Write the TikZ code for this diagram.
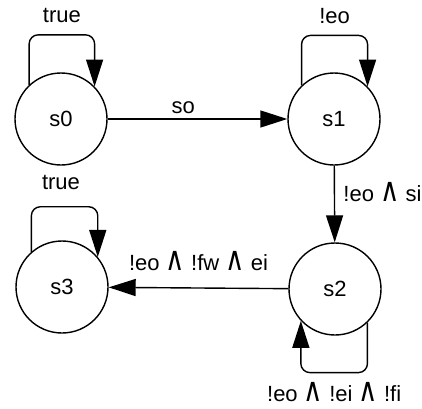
\documentclass[tikz,border=0pt]{standalone}
\usepackage{fontspec}
\setmainfont{Liberation Sans}
\newfontfamily\opfont{DejaVu Sans}
\newcommand{\andsym}{\raisebox{0pt}[\height][0pt]{\scalebox{1.2}[1.5]{\opfont ∧}}}
\usetikzlibrary{arrows.meta}

\begin{document}
\begin{tikzpicture}[x=1pt, y=1pt, line width=1.4pt,
  state/.style={draw, circle, minimum size=92pt, inner sep=0pt},
  lbl/.style={font=\fontsize{22}{26}\selectfont},
  trans/.style={-{Triangle[length=27pt, width=17pt]}},
  selfloop/.style={trans, rounded corners=9pt}]
\useasboundingbox (0,0) rectangle (422,408);
\node[state, lbl] (s0) at (61,289) {s0};
\node[state, lbl] (s1) at (334,289) {s1};
\node[state, lbl] (s2) at (335,119) {s2};
\node[state, lbl] (s3) at (62,121) {s3};
\draw[trans] (s0) -- node[lbl, pos=0.42, above, yshift=1pt] {so} (s1);
\draw[trans] (s1) -- node[lbl, pos=0.35, right, xshift=5pt] {!eo \andsym{} si} (s2);
\draw[trans] (s2) -- node[lbl, pos=0.5, above, yshift=13pt] {!eo \andsym{} !fw \andsym{} ei} (s3);
\draw[selfloop] (s0.133) -- ++(0,50) -| node[lbl, pos=0.25, above, yshift=8pt] {true} (s0.44);
\draw[selfloop] (s1.134) -- ++(0,50) -| node[lbl, pos=0.25, above, yshift=8pt] {!eo} (s1.44);
\draw[selfloop] (s3.131) -- ++(0,45) -| (s3.40);
\node[lbl] (t3) at (61,226) {true};
\draw[selfloop] (s2.-46) -- ++(0,-50) -| node[lbl, pos=0.25, below, yshift=-6pt] {!eo \andsym{} !ei \andsym{} !fi} (s2.-137);
\end{tikzpicture}
\end{document}
